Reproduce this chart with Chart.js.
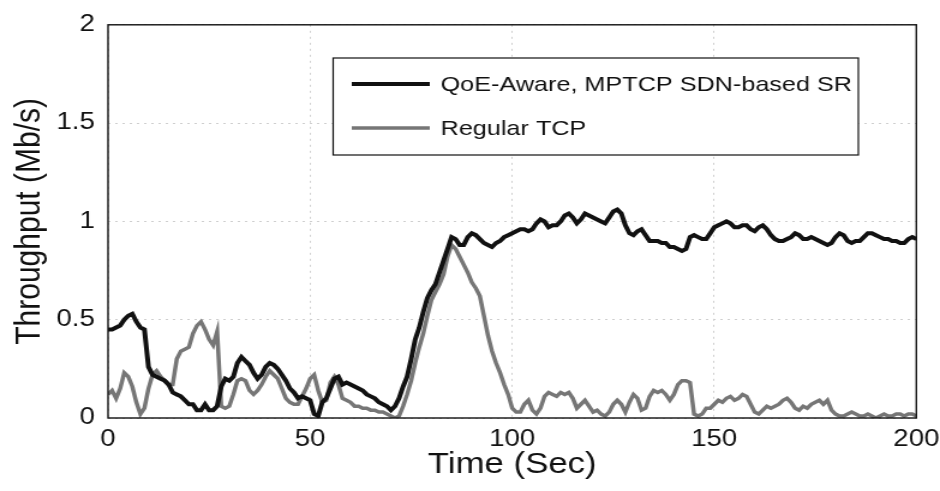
<!DOCTYPE html>
<html>
<head>
<meta charset="utf-8">
<script src="https://cdn.jsdelivr.net/npm/chart.js@4"></script>
<style>
  html, body { margin: 0; padding: 0; background: #fff; }
  /* the source figure is a scan that is stretched sideways, so the canvas is drawn narrow and widened */
  #chart { display: block; width: 940px; height: 491px; }
</style>
</head>
<body>
<canvas id="chart" width="783" height="491" style="width:940px;height:491px"></canvas>
<script>
// time axis, one sample per second
const timeSec = Array.from({ length: 201 }, (_, i) => i);

// QoE-Aware, MPTCP SDN-based SR (black)
const qoeMptcp = [
  0.45, 0.45, 0.46, 0.47, 0.50, 0.52, 0.53, 0.49, 0.46, 0.45,
  0.26, 0.22, 0.21, 0.20, 0.19, 0.17, 0.13, 0.12, 0.11, 0.09,
  0.07, 0.07, 0.04, 0.04, 0.07, 0.04, 0.04, 0.06, 0.16, 0.20,
  0.19, 0.21, 0.28, 0.31, 0.29, 0.27, 0.23, 0.20, 0.22, 0.26,
  0.28, 0.27, 0.25, 0.22, 0.19, 0.15, 0.13, 0.10, 0.11, 0.10,
  0.09, 0.02, 0.01, 0.08, 0.10, 0.15, 0.20, 0.21, 0.17, 0.18,
  0.17, 0.16, 0.15, 0.14, 0.12, 0.11, 0.10, 0.08, 0.07, 0.06,
  0.04, 0.06, 0.10, 0.16, 0.21, 0.30, 0.40, 0.46, 0.54, 0.61,
  0.65, 0.68, 0.74, 0.80, 0.86, 0.92, 0.91, 0.88, 0.88, 0.92,
  0.94, 0.93, 0.91, 0.89, 0.88, 0.87, 0.89, 0.90, 0.92, 0.93,
  0.94, 0.95, 0.96, 0.96, 0.95, 0.96, 0.99, 1.01, 1.00, 0.97,
  0.98, 0.98, 1.00, 1.03, 1.04, 1.02, 0.99, 1.01, 1.04, 1.03,
  1.02, 1.01, 1.00, 0.99, 1.02, 1.05, 1.06, 1.04, 0.98, 0.94,
  0.93, 0.95, 0.96, 0.93, 0.90, 0.90, 0.90, 0.89, 0.89, 0.87,
  0.87, 0.86, 0.85, 0.86, 0.92, 0.93, 0.92, 0.91, 0.91, 0.94,
  0.97, 0.98, 0.99, 1.00, 0.99, 0.97, 0.97, 0.98, 0.98, 0.96,
  0.95, 0.97, 0.98, 0.96, 0.93, 0.91, 0.90, 0.90, 0.91, 0.92,
  0.94, 0.93, 0.91, 0.91, 0.92, 0.91, 0.90, 0.89, 0.88, 0.89,
  0.92, 0.94, 0.93, 0.90, 0.89, 0.90, 0.90, 0.92, 0.94, 0.94,
  0.93, 0.92, 0.91, 0.91, 0.90, 0.90, 0.89, 0.89, 0.91, 0.92,
  0.91
];

// Regular TCP (grey)
const regularTcp = [
  0.12, 0.14, 0.10, 0.15, 0.23, 0.21, 0.16, 0.08, 0.02, 0.05,
  0.15, 0.22, 0.24, 0.21, 0.19, 0.17, 0.17, 0.30, 0.34, 0.35,
  0.36, 0.43, 0.47, 0.49, 0.45, 0.40, 0.37, 0.44, 0.06, 0.05,
  0.06, 0.12, 0.19, 0.20, 0.19, 0.14, 0.12, 0.14, 0.17, 0.21,
  0.24, 0.22, 0.20, 0.15, 0.10, 0.08, 0.07, 0.07, 0.11, 0.15,
  0.20, 0.22, 0.14, 0.08, 0.09, 0.18, 0.21, 0.17, 0.10, 0.09,
  0.08, 0.06, 0.06, 0.05, 0.05, 0.04, 0.04, 0.03, 0.03, 0.02,
  0.01, 0.00, 0.01, 0.06, 0.12, 0.19, 0.28, 0.36, 0.43, 0.52,
  0.60, 0.64, 0.68, 0.73, 0.82, 0.88, 0.86, 0.82, 0.78, 0.74,
  0.69, 0.66, 0.62, 0.52, 0.42, 0.34, 0.28, 0.23, 0.17, 0.12,
  0.05, 0.03, 0.03, 0.07, 0.09, 0.04, 0.02, 0.05, 0.11, 0.13,
  0.12, 0.11, 0.13, 0.12, 0.13, 0.10, 0.05, 0.07, 0.09, 0.06,
  0.03, 0.04, 0.02, 0.01, 0.03, 0.07, 0.09, 0.07, 0.03, 0.08,
  0.12, 0.10, 0.04, 0.05, 0.11, 0.14, 0.13, 0.14, 0.12, 0.09,
  0.12, 0.17, 0.19, 0.19, 0.18, 0.02, 0.01, 0.02, 0.05, 0.05,
  0.07, 0.09, 0.08, 0.10, 0.11, 0.09, 0.10, 0.12, 0.11, 0.07,
  0.03, 0.02, 0.04, 0.06, 0.05, 0.06, 0.07, 0.09, 0.10, 0.08,
  0.05, 0.04, 0.06, 0.05, 0.07, 0.08, 0.09, 0.07, 0.09, 0.04,
  0.02, 0.01, 0.01, 0.02, 0.03, 0.02, 0.01, 0.01, 0.02, 0.01,
  0.00, 0.01, 0.02, 0.01, 0.01, 0.02, 0.02, 0.01, 0.02, 0.02,
  0.01
];

const seriesNames = ['QoE-Aware, MPTCP SDN-based SR', 'Regular TCP'];
const seriesColors = ['#111111', '#767676'];
const xTicks = [0, 50, 100, 150, 200];
const yTicks = [0, 0.5, 1, 1.5, 2];

const FONT = '"Liberation Sans", Arial, sans-serif';

// draws the box round the plot and the legend inside it
const frameAndLegend = {
    id: 'frameAndLegend',
    afterDatasetsDraw(chart) {
        const ctx = chart.ctx;
        const a = chart.chartArea;
        ctx.save();
        ctx.strokeStyle = '#111';
        ctx.lineWidth = 1.4;
        ctx.strokeRect(a.left, a.top, a.right - a.left, a.bottom - a.top);

        // legend box (canvas units, page is widened by 1.2)
        const bx = 277.5, by = 58, bw = 437.5, bh = 97;
        ctx.fillStyle = '#fff';
        ctx.fillRect(bx, by, bw, bh);
        ctx.lineWidth = 1.2;
        ctx.strokeRect(bx, by, bw, bh);

        const rows = [84, 128];
        ctx.font = '21px ' + FONT;
        ctx.textBaseline = 'middle';
        chart.data.datasets.forEach((ds, i) => {
            ctx.strokeStyle = ds.borderColor;
            ctx.lineWidth = ds.borderWidth;
            ctx.beginPath();
            ctx.moveTo(293, rows[i]);
            ctx.lineTo(358, rows[i]);
            ctx.stroke();
            ctx.fillStyle = '#111';
            ctx.fillText(ds.label, 367, rows[i] + 1);
        });
        ctx.restore();
    }
};

const ctx = document.getElementById('chart').getContext('2d');
new Chart(ctx, {
    type: 'line',
    data: {
        labels: timeSec,
        datasets: [
            {
                label: seriesNames[0],
                data: qoeMptcp,
                borderColor: seriesColors[0],
                borderWidth: 4,
                pointRadius: 0,
                tension: 0
            },
            {
                label: seriesNames[1],
                data: regularTcp,
                borderColor: seriesColors[1],
                borderWidth: 3.5,
                pointRadius: 0,
                tension: 0
            }
        ]
    },
    options: {
        responsive: false,
        animation: false,
        devicePixelRatio: 1,
        layout: { padding: { top: 20, right: 19.7, left: 0, bottom: 0 } },
        plugins: {
            legend: { display: false },
            tooltip: { enabled: false }
        },
        scales: {
            x: {
                type: 'linear',
                min: 0,
                max: 200,
                afterBuildTicks: scale => { scale.ticks = xTicks.map(v => ({ value: v })); },
                afterFit: scale => {
                    scale.height = 73;
                    scale.paddingLeft = 0;
                    scale.paddingRight = 0;
                },
                ticks: { color: '#111', font: { family: FONT, size: 23 }, padding: 8, maxRotation: 0 },
                grid: { color: '#cfcfcf', lineWidth: 1, drawTicks: false },
                border: { display: false, dash: [2, 4] },
                title: {
                    display: true,
                    text: 'Time (Sec)',
                    color: '#111',
                    font: { family: FONT, size: 29 },
                    padding: { top: 0, bottom: 9 }
                }
            },
            y: {
                min: 0,
                max: 2,
                afterBuildTicks: scale => { scale.ticks = yTicks.map(v => ({ value: v })); },
                afterFit: scale => { scale.width = 90; },
                ticks: {
                    color: '#111',
                    font: { family: FONT, size: 23 },
                    padding: 11,
                    callback: value => String(value)
                },
                grid: { color: '#cfcfcf', lineWidth: 1, drawTicks: false },
                border: { display: false, dash: [2, 4] },
                title: {
                    display: true,
                    text: 'Throughput (Mb/s)',
                    color: '#111',
                    font: { family: FONT, size: 30 },
                    padding: { top: 7, bottom: 0 }
                }
            }
        }
    },
    plugins: [frameAndLegend]
});
</script>
</body>
</html>
